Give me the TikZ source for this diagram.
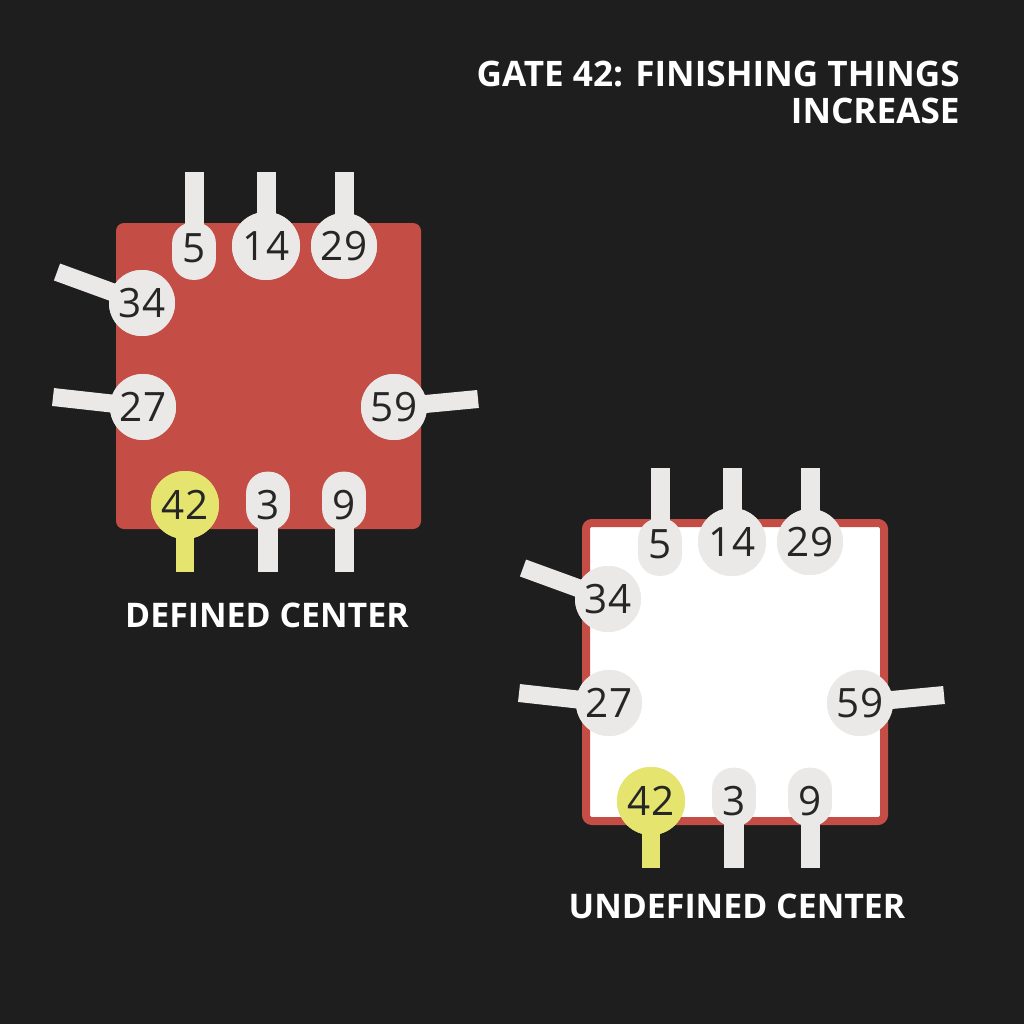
\documentclass[tikz,border=0pt]{standalone}
\usepackage{fontspec}
\setmainfont{Open Sans}
\newfontfamily\numfont{Open Sans}
\newcommand{\headfont}{\bfseries}
\definecolor{bg}{HTML}{1E1E1E}
\definecolor{gred}{HTML}{C44E46}
\definecolor{gpale}{HTML}{EBE9E7}
\definecolor{gyellow}{HTML}{E4E46E}
\definecolor{numtxt}{HTML}{262626}
\def\pxu{0.02cm}
\tikzset{
  px/.style={x=0.02cm,y=-0.02cm},
  gatecirc/.style={circle,fill=gpale,inner sep=0pt,minimum size={#1*2*\pxu}},
  gatestad/.style={rectangle,fill=gpale,inner sep=0pt,minimum width={43*\pxu},minimum height={57*\pxu},rounded corners={21*\pxu}},
  numtext/.style={inner sep=0pt,font=\numfont\fontsize{23}{23}\selectfont,text=numtxt},
  stem/.style={draw=gpale,line width={#1*\pxu},line cap=butt},
  headtxt/.style={text=white,font=\headfont\fontsize{20}{20}\selectfont,inner sep=0pt},
  labeltxt/.style={text=white,font=\headfont\fontsize{19.3}{19.3}\selectfont,inner sep=0pt},
}
\newcommand{\gategroup}[2]{%
  \coordinate (#1s5) at (194,172);
  \coordinate (#1s14) at (266,172);
  \coordinate (#1s29) at (344,172);
  \coordinate (#1s34) at (57,272);
  \coordinate (#1s27) at (53,397);
  \coordinate (#1s59) at (478,399);
  \coordinate (#1s42) at (185,572);
  \coordinate (#1s3) at (268,572);
  \coordinate (#1s9) at (344,572);
  #2
  \node[gatestad] (#1g5) at (194,251) {};
  \node[gatecirc=34] (#1g14) at (266,246) {};
  \node[gatecirc=33] (#1g29) at (344,246) {};
  \node[gatecirc=33] (#1g34) at (142,303) {};
  \node[gatecirc=33] (#1g27) at (143,407) {};
  \node[gatecirc=33] (#1g59) at (394,407) {};
  \node[gatecirc=34,fill=gyellow] (#1g42) at (185,505) {};
  \node[gatestad,minimum height={58*\pxu}] (#1g3) at (268,501) {};
  \node[gatestad,minimum height={58*\pxu}] (#1g9) at (344,501) {};
  \draw[stem=19] (#1g5.center) -- (#1s5);
  \draw[stem=19] (#1g14.center) -- (#1s14);
  \draw[stem=19] (#1g29.center) -- (#1s29);
  \draw[stem=18] (#1g34.center) -- (#1s34);
  \draw[stem=18] (#1g27.center) -- (#1s27);
  \draw[stem=18] (#1g59.center) -- (#1s59);
  \draw[stem=18,draw=gyellow] (#1g42.center) -- (#1s42);
  \draw[stem=20] (#1g3.center) -- (#1s3);
  \draw[stem=19] (#1g9.center) -- (#1s9);
  \fill[gpale] (#1g14) circle ({34*\pxu});
  \fill[gpale] (#1g29) circle ({33*\pxu});
  \fill[gpale] (#1g34) circle ({33*\pxu});
  \fill[gpale] (#1g27) circle ({33*\pxu});
  \fill[gpale] (#1g59) circle ({33*\pxu});
  \fill[gyellow] (#1g42) circle ({34*\pxu});
  \fill[gpale,rounded corners={21*\pxu}] (#1g3.south west) rectangle (#1g3.north east);
  \fill[gpale,rounded corners={21*\pxu}] (#1g9.south west) rectangle (#1g9.north east);
  \fill[gpale,rounded corners={21*\pxu}] (#1g5.south west) rectangle (#1g5.north east);
  \node[numtext] (#1n5) at (194,248) {5};
  \node[numtext] (#1n14) at (266,246) {14};
  \node[numtext] (#1n29) at (344,246) {29};
  \node[numtext] (#1n34) at (142,303) {34};
  \node[numtext] (#1n27) at (143,407) {27};
  \node[numtext] (#1n59) at (394,407) {59};
  \node[numtext] (#1n42) at (185,505) {42};
  \node[numtext] (#1n3) at (268,505) {3};
  \node[numtext] (#1n9) at (344,505) {9};
}
\begin{document}
\begin{tikzpicture}[px]
\fill[bg] (0,0) rectangle (1024,1024);
\useasboundingbox (0,0) rectangle (1024,1024);
\node[headtxt,anchor=base east] (t1) at (960,87) {GATE 42: FINISHING THINGS};
\node[headtxt,anchor=base east] (t2) at (960,124) {INCREASE};
\gategroup{a}{\fill[gred,rounded corners={8*\pxu}] (116,223) rectangle (421,529);}
\node[labeltxt,anchor=base] (l1) at (267,627) {DEFINED CENTER};
\begin{scope}[shift={(466,296)}]
\gategroup{b}{\draw[gred,fill=white,line width={8*\pxu},rounded corners={6*\pxu}] (120,227) rectangle (418,525);}
\node[labeltxt,anchor=base] (l2) at (271,622) {UNDEFINED CENTER};
\end{scope}
\end{tikzpicture}
\end{document}
